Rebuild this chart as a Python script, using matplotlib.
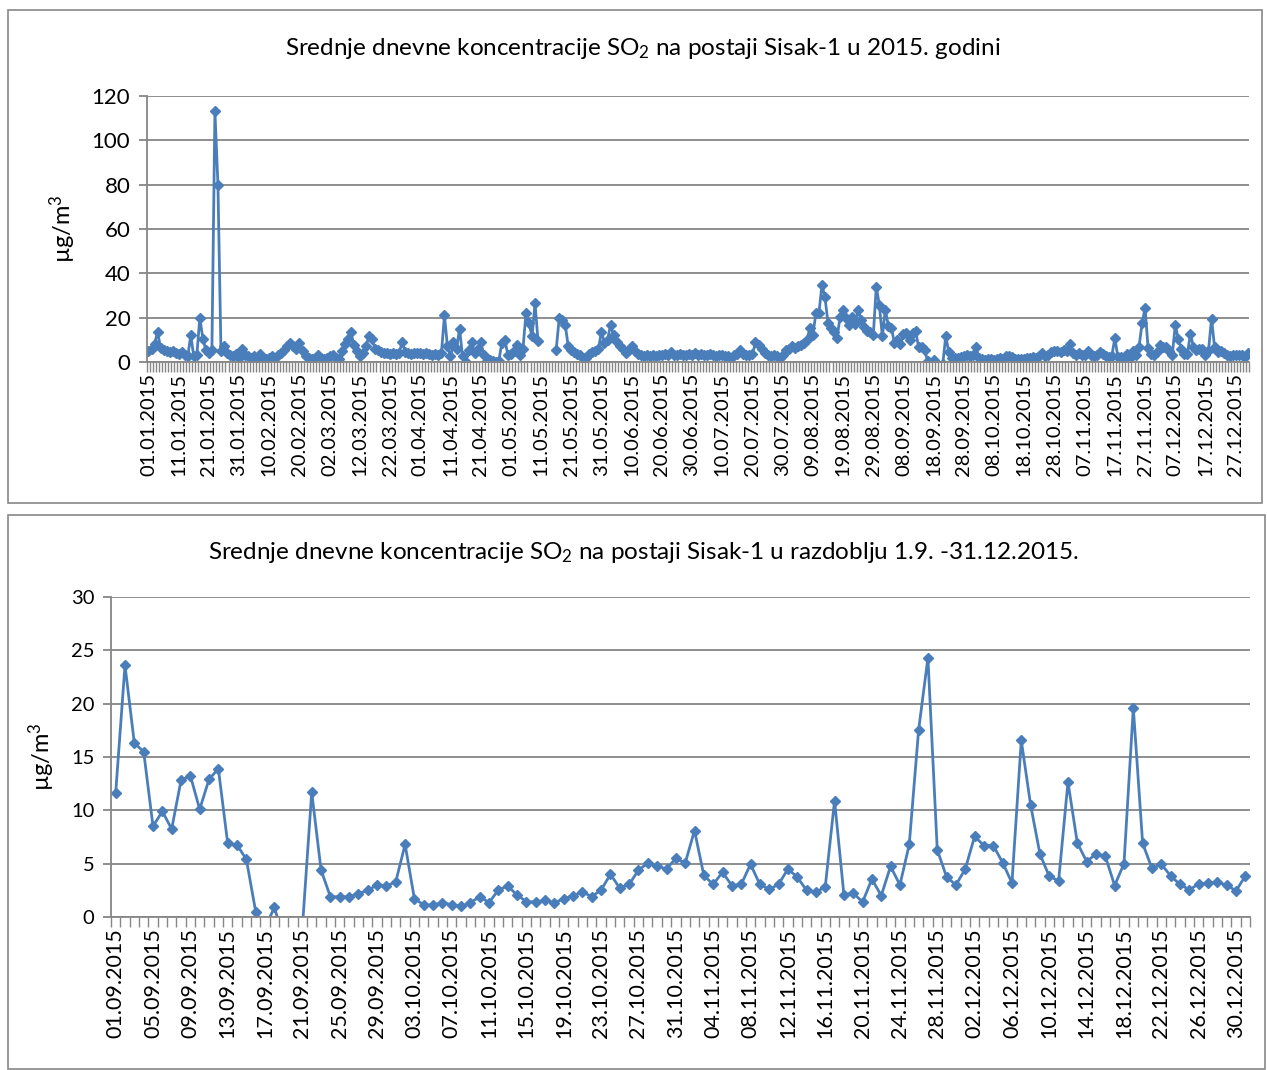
import numpy as np
import pandas as pd
import matplotlib
matplotlib.use('Agg')
import matplotlib.pyplot as plt
from matplotlib.patches import Rectangle

plt.rcParams['font.family'] = ['Lato', 'DejaVu Sans']
plt.rcParams['mathtext.fontset'] = 'custom'
plt.rcParams['mathtext.rm'] = 'Lato'
plt.rcParams['mathtext.it'] = 'Lato:italic'
plt.rcParams['mathtext.default'] = 'regular'

nan = np.nan

# srednje dnevne koncentracije SO2 (ug/m3), Sisak-1, 2015 - po mjesecima
jan = [4.8, 6.0, 8.0, 13.5, 6.5, 5.5, 5.0, 4.5, 5.0, 4.0, 3.5, 4.5, 3.0, 2.5, 12.0, 2.5,
       3.0, 20.0, 10.5, 5.5, 4.0, 5.5, 113.0, 80.0, 5.0, 7.0, 4.0, 3.0, 2.5, 3.5, 2.0]
feb = [6.0, 3.0, 2.5, 2.0, 2.5, 1.5, 3.5, 2.0, 1.5, 2.0, 2.5, 2.0, 3.0, 4.0, 5.5, 7.0,
       8.5, 7.0, 6.0, 8.5, 5.0, 2.5, 2.0, 1.5, 2.0, 3.3, 2.0, 1.5]
mar = [2.0, 2.5, 3.3, 2.0, 1.5, 5.0, 8.0, 10.5, 13.5, 7.5, 5.0, 2.5, 4.0, 7.0, 11.5, 10.5,
       6.0, 5.5, 4.5, 4.0, 4.0, 3.5, 4.0, 3.5, 4.0, 9.0, 4.5, 4.0, 3.5, 4.0, 4.0]
apr = [4.0, 3.5, 4.0, 3.5, 3.0, 3.5, 3.0, 4.0, 21.0, 7.0, 2.5, 9.0, 6.0, 15.0, 2.5, 0.2,
       5.5, 9.0, 4.0, 6.0, 9.0, 3.3, 0.5, 0.8, 0.3, 0.2, 0.5, 8.5, 10.0, 3.3]
may = [3.5, 5.0, 7.8, 3.3, 6.0, 22.0, 17.5, 11.5, 26.5, 9.3, nan, nan, nan, nan, nan, 5.5,
       19.7, 19.0, 16.7, 7.0, 5.5, 4.5, 3.5, 3.0, 2.0, 1.8, 3.5, 4.5, 5.0, 6.0, 13.7]
jun = [8.5, 10.0, 16.7, 12.0, 9.0, 7.0, 6.0, 4.0, 5.5, 7.0, 5.0, 3.5, 3.0, 2.5, 3.0, 2.5,
       3.0, 2.5, 3.0, 3.0, 3.5, 3.0, 4.5, 3.0, 3.0, 3.5, 3.0, 3.0, 3.5, 3.0]
jul = [4.0, 3.0, 3.5, 3.0, 3.0, 3.5, 3.0, 2.5, 3.0, 3.0, 2.5, 2.5, 2.0, 3.0, 3.5, 5.5,
       3.5, 3.3, 3.0, 3.5, 8.8, 7.8, 6.0, 4.0, 3.0, 2.5, 3.0, 2.5, 2.0, 3.0, 5.5]
aug = [6.0, 7.0, 6.5, 7.0, 7.5, 8.5, 10.0, 15.2, 12.2, 22.0, 22.0, 34.6, 29.4, 17.5, 15.2,
       13.5, 10.7, 20.4, 23.4, 19.7, 16.7, 20.4, 17.0, 23.4, 19.0, 16.0, 14.0, 13.7, 12.0,
       34.0, 25.7]
sep = [11.6, 23.6, 16.3, 15.5, 8.5, 9.9, 8.25, 12.8, 13.25, 10.1, 12.9, 13.9, 6.9, 6.75,
       5.4, 0.5, -1.0, 0.9, -2.0, -2.0, -1.0, 11.7, 4.4, 1.9, 1.9, 1.9, 2.2, 2.5, 3.0, 2.9]
oct_ = [3.3, 6.8, 1.7, 1.15, 1.1, 1.35, 1.15, 1.0, 1.35, 1.9, 1.35, 2.55, 2.9, 2.05, 1.45,
        1.4, 1.55, 1.35, 1.7, 2.0, 2.35, 1.9, 2.55, 4.0, 2.7, 3.05, 4.4, 5.05, 4.75, 4.5, 5.5]
nov = [5.05, 8.1, 3.9, 3.05, 4.2, 2.95, 3.05, 4.95, 3.05, 2.6, 3.05, 4.5, 3.75, 2.5, 2.35,
       2.8, 10.9, 2.1, 2.25, 1.4, 3.55, 2.0, 4.75, 3.0, 6.8, 17.5, 24.3, 6.3, 3.75, 3.0]
dec = [4.5, 7.55, 6.7, 6.7, 5.1, 3.2, 16.55, 10.5, 5.9, 3.8, 3.4, 12.65, 6.95, 5.2, 5.9,
       5.7, 2.95, 5.0, 19.6, 6.9, 4.55, 4.95, 3.85, 3.05, 2.55, 3.1, 3.2, 3.25, 3.0, 2.45, 3.85]

LINE = '#4A7EBB'
GRID = '#868686'

so2 = pd.Series(jan + feb + mar + apr + may + jun + jul + aug + sep + oct_ + nov + dec,
                index=pd.date_range('2015-01-01', '2015-12-31', freq='D'))
autumn = so2['2015-09-01':]


def draw_panel(ax, s, ymax, ystep, label_every, ms, ytick_size, xtick_size):
    x = np.arange(len(s))
    ax.plot(x, s.values, color=LINE, lw=2.0, marker='D', ms=ms, mec=LINE, mfc=LINE)
    ax.set_xlim(-0.5, len(s) - 0.5)
    ax.set_ylim(0, ymax)
    ax.set_yticks(np.arange(0, ymax + 1, ystep))
    ax.set_xticks(x[::label_every])
    ax.set_xticklabels(s.index[::label_every].strftime('%d.%m.%Y'), rotation=90)
    ax.set_xticks(np.arange(-0.5, len(s), 1), minor=True)
    ax.tick_params(axis='x', which='major', length=0, pad=8, labelsize=xtick_size)
    ax.tick_params(axis='x', which='minor', length=7, width=1, color=GRID)
    ax.tick_params(axis='y', length=6, width=1.3, color=GRID, labelsize=ytick_size, pad=6)
    ax.grid(axis='y', color=GRID, lw=1.3)
    ax.set_axisbelow(True)
    for side in ['top', 'right']:
        ax.spines[side].set_visible(False)
    for side in ['left', 'bottom']:
        ax.spines[side].set_color(GRID)
        ax.spines[side].set_linewidth(1.3)


fig = plt.figure(figsize=(12.67, 10.70), dpi=100)

# okviri
fig.add_artist(Rectangle((0.0063, 0.530), 0.9897, 0.4607, transform=fig.transFigure,
                         fill=False, ec='#878787', lw=1.2))
fig.add_artist(Rectangle((0.0063, 0.001), 0.992, 0.5177, transform=fig.transFigure,
                         fill=False, ec='#878787', lw=1.2))

ax1 = fig.add_axes([0.116, 0.6617, 0.870, 0.2486])
draw_panel(ax1, so2, 120, 20, 10, 5, 16, 14.5)
fig.text(0.5075, 0.955, 'Srednje dnevne koncentracije SO$_2$ na postaji Sisak-1 u 2015. godini',
         ha='center', va='center', fontsize=17.5)
fig.text(0.0497, 0.786, 'µg/m$^3$', rotation=90, ha='center', va='center', fontsize=17)

ax2 = fig.add_axes([0.0876, 0.1430, 0.899, 0.2991])
draw_panel(ax2, autumn, 30, 5, 4, 5.5, 14.5, 15.5)
fig.text(0.508, 0.484,
         'Srednje dnevne koncentracije SO$_2$ na postaji Sisak-1 u razdoblju 1.9. -31.12.2015.',
         ha='center', va='center', fontsize=17.5)
fig.text(0.033, 0.2925, 'µg/m$^3$', rotation=90, ha='center', va='center', fontsize=17)

fig.savefig('out.png', dpi=100, facecolor='white')
